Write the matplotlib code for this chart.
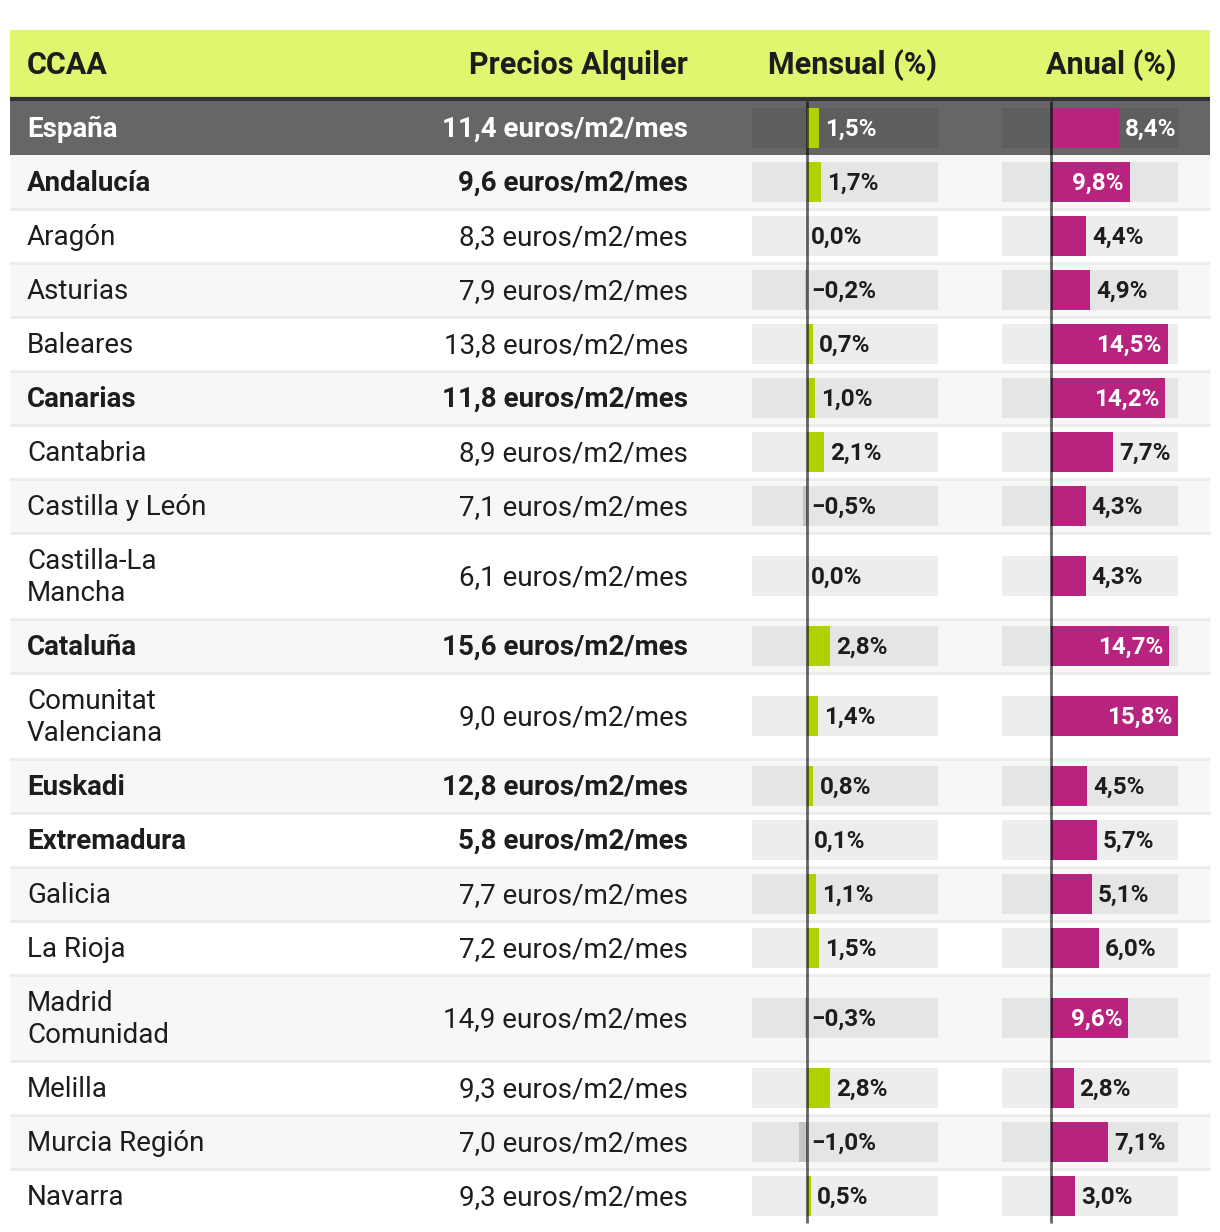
import matplotlib
matplotlib.use("Agg")
import matplotlib.pyplot as plt

plt.rcParams['font.family'] = ['Roboto', 'DejaVu Sans']

# data
ccaa = ["España", "Andalucía", "Aragón", "Asturias", "Baleares", "Canarias",
        "Cantabria", "Castilla y León", "Castilla-La\nMancha", "Cataluña",
        "Comunitat\nValenciana", "Euskadi", "Extremadura", "Galicia", "La Rioja",
        "Madrid\nComunidad", "Melilla", "Murcia Región", "Navarra"]
precio = [11.4, 9.6, 8.3, 7.9, 13.8, 11.8, 8.9, 7.1, 6.1, 15.6, 9.0, 12.8, 5.8,
          7.7, 7.2, 14.9, 9.3, 7.0, 9.3]
mensual = [1.5, 1.7, 0.0, -0.2, 0.7, 1.0, 2.1, -0.5, 0.0, 2.8, 1.4, 0.8, 0.1,
           1.1, 1.5, -0.3, 2.8, -1.0, 0.5]
anual = [8.4, 9.8, 4.4, 4.9, 14.5, 14.2, 7.7, 4.3, 4.3, 14.7, 15.8, 4.5, 5.7,
         5.1, 6.0, 9.6, 2.8, 7.1, 3.0]
bold_rows = ["España", "Andalucía", "Canarias", "Cataluña", "Euskadi", "Extremadura"]
headers = ["CCAA", "Precios Alquiler", "Mensual (%)", "Anual (%)"]

W, H = 1220, 1232
TXT = "#1d1d1d"
GREEN_HDR = "#e1f56f"
LIME = "#b1d000"
MAGENTA = "#b8237f"
NEG = "#c4c4c4"


def fmt(v):
    return (f"{v:.1f}%").replace(".", ",").replace("-", "\u2212")


fig = plt.figure(figsize=(W / 100, H / 100), dpi=100)
ax = fig.add_axes([0, 0, 1, 1])
ax.set_xlim(0, W)
ax.set_ylim(H, 0)
ax.axis("off")

# header
ax.add_patch(plt.Rectangle((10, 30), 1200, 68, color=GREEN_HDR, lw=0))
ax.plot([10, 1210], [99, 99], color="#333333", lw=3, solid_capstyle="butt")
hy = 65
ax.text(27, hy, headers[0], fontsize=22, fontweight="bold", color=TXT, va="center")
ax.text(688, hy, headers[1], fontsize=22, fontweight="bold", color=TXT, va="center", ha="right")
ax.text(937, hy, headers[2], fontsize=22, fontweight="bold", color=TXT, va="center", ha="right")
ax.text(1177, hy, headers[3], fontsize=22, fontweight="bold", color=TXT, va="center", ha="right")

# rows layout
y = 101
centers = []
for i, name in enumerate(ccaa):
    h = 86 if "\n" in name else 54
    if i == 0:
        bg = "#666666"
    elif (i - 1) % 2 == 0:
        bg = "#f7f7f7"
    else:
        bg = "white"
    ax.add_patch(plt.Rectangle((10, y), 1200, h, color=bg, lw=0))
    if 0 < i < len(ccaa) - 1:
        ax.plot([10, 1210], [y + h, y + h], color="#ebebeb", lw=2, solid_capstyle="butt")
    c = y + h / 2
    centers.append(c)
    bold = name in bold_rows
    col = "white" if i == 0 else TXT
    fw = "bold" if bold else "normal"
    ax.text(27, c + 1.5, name, fontsize=20, fontweight=fw, color=col, va="center",
            linespacing=1.26)
    ax.text(688, c + 1.5, f"{precio[i]:.1f}".replace(".", ",") + " euros/m2/mes",
            fontsize=20, fontweight=fw, color=col, va="center", ha="right")
    y += h
bottom = y

# bar columns
ax_m = fig.add_axes([752 / W, 0, 186 / W, 1])
ax_a = fig.add_axes([1002 / W, 0, 176 / W, 1])
limits = {ax_m: (-6.8, 16.2), ax_a: (-6.1, 15.8)}
for bax, vals, color in [(ax_m, mensual, LIME), (ax_a, anual, MAGENTA)]:
    lo, hi = limits[bax]
    bax.set_xlim(lo, hi)
    bax.set_ylim(H, 0)
    bax.axis("off")
    bax.patch.set_visible(False)
    bax.barh(centers, [hi - lo] * len(centers), left=lo, height=40,
             color="black", alpha=0.07, lw=0)
    cols = [color if v > 0 else NEG for v in vals]
    bax.barh(centers, vals, left=0, height=40, color=cols, lw=0)
    bax.vlines(0, 101, bottom, color="black", alpha=0.6, lw=2)

for i, (c, v) in enumerate(zip(centers, mensual)):
    col = "white" if i == 0 else TXT
    x0 = max(v, 0)
    off = 6 if v > 0 else 4
    ax_m.annotate(fmt(v), (x0, c + 1), xytext=(off, 0), textcoords="offset pixels",
                  ha="left", va="center", fontsize=17.5, fontweight="bold", color=col)

for i, (c, v) in enumerate(zip(centers, anual)):
    if v >= 9:
        ax_a.annotate(fmt(v), (v, c + 1), xytext=(-6, 0), textcoords="offset pixels",
                      ha="right", va="center", fontsize=17.5, fontweight="bold", color="white")
    else:
        col = "white" if i == 0 else TXT
        ax_a.annotate(fmt(v), (v, c + 1), xytext=(6, 0), textcoords="offset pixels",
                      ha="left", va="center", fontsize=17.5, fontweight="bold", color=col)

fig.savefig("out.png", dpi=100)
